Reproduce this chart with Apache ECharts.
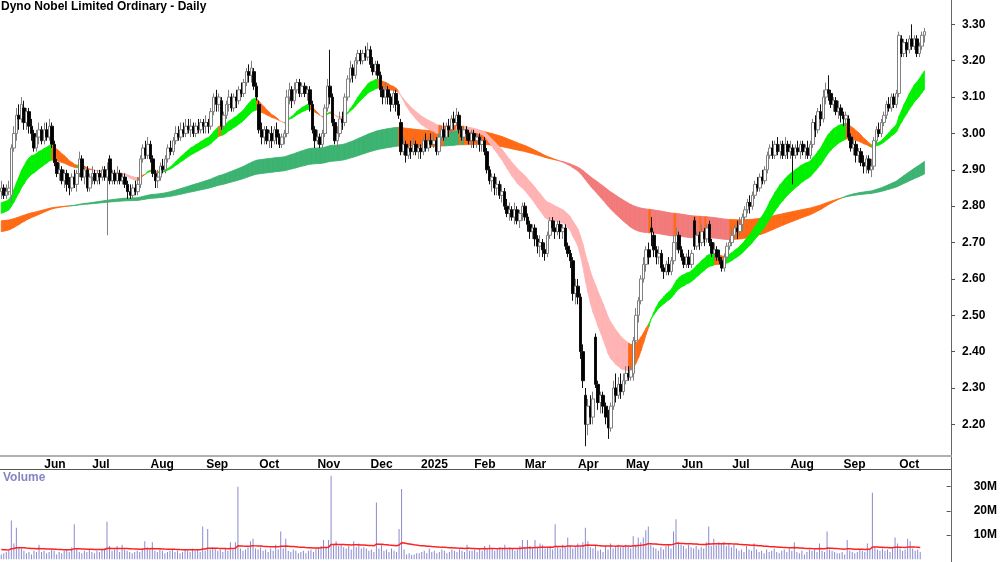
<!DOCTYPE html>
<html>
<head>
<meta charset="utf-8">
<title>Dyno Nobel Limited Ordinary - Daily</title>
<script src="https://cdn.jsdelivr.net/npm/echarts@6/dist/echarts.min.js"></script>
<style>
  html, body { margin: 0; padding: 0; background: #fff; }
  #chart { width: 1000px; height: 562px; }
</style>
</head>
<body>
<div id="chart"></div>
<script>
// daily bars [open, close, low, high], from 9 May 2024
var ohlc = [
  // May 2024
  [2.84,2.85,2.82,2.87],[2.85,2.83,2.82,2.86],[2.83,2.84,2.82,2.86],[2.84,2.85,2.83,2.87],[2.83,2.96,2.81,2.97],
  [2.96,3.00,2.95,3.02],[3.00,3.05,2.98,3.07],[3.05,3.04,3.01,3.08],[3.04,3.08,3.03,3.10],[3.07,3.03,3.01,3.09],
  [3.03,3.06,3.01,3.07],[3.06,3.02,3.00,3.07],[3.02,3.00,2.98,3.04],[3.00,2.96,2.95,3.01],[2.96,2.99,2.95,3.01],
  [2.99,3.01,2.97,3.03],[3.01,2.98,2.97,3.02],
  // Jun
  [2.98,3.01,2.97,3.03],[3.01,2.99,2.98,3.03],[2.99,3.02,2.98,3.04],[3.02,2.97,2.96,3.03],[2.97,2.92,2.91,2.98],
  [2.92,2.89,2.88,2.93],[2.89,2.90,2.87,2.92],[2.90,2.87,2.86,2.91],[2.87,2.89,2.85,2.90],[2.89,2.86,2.84,2.90],
  [2.86,2.85,2.83,2.88],[2.85,2.88,2.84,2.89],[2.88,2.86,2.85,2.90],[2.86,2.89,2.84,2.90],[2.89,2.93,2.88,2.95],
  [2.93,2.88,2.87,2.94],[2.88,2.90,2.86,2.91],[2.90,2.85,2.84,2.91],[2.85,2.88,2.84,2.89],
  // Jul
  [2.88,2.89,2.86,2.91],[2.89,2.87,2.86,2.90],[2.87,2.89,2.86,2.90],[2.89,2.88,2.86,2.90],[2.88,2.90,2.87,2.91],
  [2.90,2.88,2.87,2.91],[2.88,2.90,2.72,2.92],[2.93,2.87,2.86,2.94],[2.87,2.89,2.86,2.90],[2.89,2.87,2.86,2.90],
  [2.87,2.89,2.86,2.91],[2.89,2.87,2.86,2.90],[2.87,2.88,2.86,2.89],[2.88,2.86,2.85,2.89],[2.86,2.84,2.82,2.87],
  [2.84,2.83,2.82,2.86],[2.83,2.85,2.82,2.86],[2.85,2.84,2.83,2.87],[2.84,2.86,2.83,2.88],[2.86,2.93,2.85,2.94],
  [2.93,2.96,2.92,2.97],[2.96,2.94,2.93,2.98],[2.94,2.97,2.93,2.99],
  // Aug
  [2.97,2.93,2.92,2.98],[2.93,2.89,2.88,2.94],[2.89,2.87,2.85,2.90],[2.87,2.88,2.85,2.90],[2.88,2.91,2.87,2.92],
  [2.91,2.90,2.89,2.93],[2.90,2.93,2.89,2.94],[2.93,2.96,2.92,2.97],[2.96,2.95,2.94,2.98],[2.95,2.98,2.94,2.99],
  [2.98,3.00,2.97,3.02],[3.00,2.99,2.98,3.02],[2.99,3.01,2.98,3.03],[3.01,3.00,2.99,3.03],[3.00,3.02,2.99,3.04],
  [3.02,3.01,3.00,3.04],[3.01,3.02,2.99,3.04],[3.02,3.00,2.99,3.03],[3.00,3.02,2.99,3.03],[3.02,3.01,3.00,3.04],
  [3.01,3.03,3.00,3.04],[3.03,3.02,3.00,3.04],
  // Sep
  [3.02,3.03,3.00,3.05],[3.03,3.02,3.00,3.04],[3.02,3.06,3.01,3.07],[3.06,3.10,3.05,3.11],[3.10,3.08,3.06,3.12],
  [3.08,3.10,3.06,3.11],[3.09,3.02,3.01,3.10],[3.02,3.05,3.01,3.06],[3.05,3.08,3.04,3.09],[3.08,3.10,3.06,3.12],
  [3.10,3.07,3.06,3.11],[3.07,3.10,3.06,3.11],[3.10,3.09,3.07,3.12],[3.09,3.12,3.08,3.13],[3.12,3.11,3.10,3.14],
  [3.11,3.14,3.10,3.15],[3.14,3.17,3.13,3.18],[3.17,3.16,3.14,3.19],[3.16,3.18,3.14,3.20],[3.17,3.13,3.12,3.18],
  [3.13,3.10,3.09,3.14],
  // Oct
  [3.08,3.01,3.00,3.09],[3.01,2.99,2.97,3.03],[2.99,3.01,2.97,3.02],[3.01,2.98,2.97,3.02],[2.98,3.00,2.96,3.01],
  [3.00,2.98,2.96,3.02],[2.98,3.01,2.97,3.02],[3.01,2.99,2.97,3.03],[2.99,2.97,2.96,3.00],[2.97,2.99,2.96,3.00],
  [2.99,3.00,2.97,3.01],[3.00,3.10,2.99,3.12],[3.10,3.12,3.08,3.14],[3.12,3.09,3.07,3.13],[3.09,3.12,3.08,3.14],
  [3.12,3.14,3.11,3.15],[3.14,3.11,3.10,3.15],[3.11,3.13,3.10,3.14],[3.13,3.11,3.10,3.14],[3.11,3.12,3.09,3.13],
  [3.12,3.08,3.06,3.13],[3.08,3.01,3.00,3.09],[3.01,2.98,2.96,3.02],
  // Nov
  [2.98,2.99,2.97,3.01],[2.99,2.97,2.96,3.00],[2.97,3.00,2.96,3.01],[3.00,3.07,2.99,3.08],[3.07,3.13,3.06,3.15],
  [3.13,3.10,3.08,3.23],[3.10,3.03,3.02,3.11],[3.03,2.98,2.97,3.04],[2.98,3.00,2.96,3.02],[3.00,3.04,2.99,3.06],
  [3.04,3.03,3.01,3.06],[3.03,3.10,3.02,3.11],[3.10,3.15,3.09,3.16],[3.15,3.18,3.14,3.20],[3.18,3.16,3.14,3.19],
  [3.16,3.20,3.15,3.21],[3.20,3.22,3.19,3.23],[3.22,3.20,3.19,3.23],[3.20,3.22,3.19,3.23],[3.22,3.21,3.20,3.24],
  [3.21,3.23,3.20,3.25],
  // Dec
  [3.23,3.19,3.18,3.24],[3.19,3.17,3.16,3.21],[3.17,3.19,3.16,3.20],[3.19,3.16,3.15,3.20],[3.16,3.12,3.10,3.17],
  [3.12,3.10,3.08,3.13],[3.10,3.12,3.08,3.14],[3.12,3.10,3.08,3.13],[3.10,3.08,3.06,3.11],[3.08,3.11,3.07,3.12],
  [3.11,3.08,3.06,3.12],[3.08,3.05,3.04,3.09],[3.03,2.95,2.94,3.04],[2.95,2.97,2.94,2.99],[2.97,2.94,2.92,2.98],
  [2.94,2.96,2.93,2.97],[2.96,2.95,2.93,2.98],[2.95,2.97,2.94,2.99],[2.97,2.95,2.94,2.98],[2.95,2.96,2.93,2.97],
  // Jan 2025
  [2.96,2.95,2.93,2.97],[2.95,2.98,2.94,2.99],[2.98,2.96,2.95,3.00],[2.96,2.98,2.95,2.99],[2.98,2.97,2.96,3.00],
  [2.97,2.98,2.96,3.00],[2.98,2.95,2.94,2.99],[2.95,2.99,2.94,3.00],[2.99,3.01,2.98,3.02],[3.01,2.99,2.98,3.03],
  [2.99,3.02,2.98,3.03],[3.02,3.01,2.99,3.04],[3.01,3.04,3.00,3.05],[3.04,3.03,3.01,3.06],[3.03,3.05,3.02,3.07],
  [3.05,3.01,3.00,3.06],[3.01,2.99,2.98,3.02],[2.99,3.01,2.98,3.02],[3.01,3.00,2.98,3.02],[3.00,2.98,2.97,3.01],
  [2.98,3.00,2.96,3.01],
  // Feb
  [3.00,2.98,2.96,3.01],[2.98,2.99,2.96,3.00],[2.99,2.97,2.95,3.00],[2.97,2.98,2.95,2.99],[2.98,2.95,2.94,2.99],
  [2.95,2.90,2.89,2.96],[2.90,2.87,2.86,2.91],[2.87,2.88,2.84,2.89],[2.88,2.85,2.83,2.89],[2.85,2.86,2.83,2.88],
  [2.86,2.83,2.82,2.87],[2.83,2.84,2.81,2.86],[2.84,2.80,2.79,2.85],[2.80,2.78,2.77,2.82],[2.78,2.79,2.76,2.81],
  [2.79,2.77,2.76,2.80],[2.77,2.79,2.75,2.81],[2.79,2.76,2.75,2.80],[2.76,2.78,2.74,2.79],[2.78,2.80,2.76,2.81],
  // Mar
  [2.80,2.77,2.76,2.81],[2.77,2.75,2.73,2.78],[2.75,2.73,2.71,2.76],[2.73,2.74,2.71,2.75],[2.74,2.71,2.69,2.75],
  [2.71,2.69,2.67,2.72],[2.69,2.70,2.66,2.72],[2.70,2.68,2.66,2.71],[2.68,2.67,2.65,2.70],[2.67,2.72,2.66,2.73],
  [2.72,2.76,2.71,2.77],[2.76,2.74,2.73,2.77],[2.74,2.73,2.71,2.76],[2.73,2.75,2.72,2.76],[2.75,2.73,2.71,2.76],
  [2.73,2.74,2.71,2.75],[2.74,2.69,2.68,2.75],[2.69,2.67,2.66,2.70],[2.67,2.65,2.63,2.68],[2.65,2.56,2.54,2.66],
  [2.56,2.58,2.53,2.60],
  // Apr
  [2.58,2.55,2.53,2.60],[2.55,2.40,2.38,2.56],[2.40,2.32,2.30,2.42],[2.28,2.20,2.14,2.30],[2.20,2.25,2.17,2.27],
  [2.25,2.22,2.20,2.28],[2.22,2.27,2.20,2.29],[2.44,2.31,2.30,2.45],[2.31,2.26,2.24,2.32],[2.26,2.28,2.23,2.29],
  [2.28,2.25,2.23,2.29],[2.25,2.22,2.20,2.26],[2.22,2.19,2.16,2.24],[2.19,2.25,2.18,2.26],[2.25,2.30,2.24,2.32],
  [2.30,2.28,2.26,2.34],[2.28,2.31,2.27,2.33],[2.31,2.29,2.27,2.34],[2.29,2.32,2.28,2.34],
  // May
  [2.32,2.34,2.31,2.36],[2.34,2.33,2.32,2.36],[2.33,2.35,2.32,2.36],[2.34,2.43,2.32,2.44],[2.43,2.50,2.42,2.52],
  [2.50,2.54,2.48,2.55],[2.54,2.60,2.53,2.61],[2.60,2.64,2.59,2.66],[2.64,2.68,2.62,2.69],[2.68,2.66,2.64,2.70],
  [2.74,2.73,2.69,2.77],[2.72,2.68,2.66,2.73],[2.68,2.66,2.64,2.69],[2.66,2.67,2.64,2.69],[2.67,2.63,2.62,2.68],
  [2.63,2.62,2.60,2.64],[2.62,2.64,2.61,2.65],[2.64,2.62,2.61,2.66],[2.62,2.65,2.61,2.66],[2.65,2.70,2.64,2.72],
  [2.70,2.72,2.68,2.74],[2.72,2.68,2.67,2.73],
  // Jun
  [2.68,2.66,2.65,2.69],[2.66,2.64,2.63,2.67],[2.64,2.66,2.63,2.67],[2.66,2.64,2.63,2.68],[2.64,2.67,2.63,2.68],
  [2.76,2.69,2.68,2.77],[2.69,2.72,2.68,2.73],[2.72,2.70,2.68,2.73],[2.70,2.73,2.69,2.75],[2.73,2.71,2.69,2.74],
  [2.71,2.74,2.70,2.75],[2.75,2.70,2.69,2.76],[2.70,2.67,2.66,2.71],[2.67,2.68,2.65,2.70],[2.68,2.66,2.65,2.69],
  [2.66,2.65,2.64,2.68],[2.65,2.63,2.62,2.66],[2.63,2.66,2.62,2.67],[2.66,2.69,2.65,2.70],[2.69,2.70,2.68,2.71],
  // Jul
  [2.70,2.72,2.69,2.74],[2.72,2.74,2.71,2.75],[2.74,2.73,2.71,2.76],[2.73,2.75,2.72,2.77],[2.75,2.77,2.73,2.78],
  [2.77,2.79,2.76,2.80],[2.79,2.81,2.78,2.82],[2.81,2.80,2.78,2.83],[2.80,2.83,2.79,2.84],[2.83,2.86,2.82,2.87],
  [2.86,2.85,2.84,2.88],[2.85,2.88,2.84,2.89],[2.88,2.87,2.86,2.90],[2.87,2.90,2.86,2.91],[2.90,2.94,2.89,2.95],
  [2.94,2.96,2.93,2.97],[2.96,2.94,2.93,2.98],[2.94,2.97,2.93,2.98],[2.97,2.95,2.94,2.99],[2.95,2.97,2.93,2.98],
  [2.97,2.94,2.93,2.98],[2.94,2.97,2.93,2.99],[2.97,2.95,2.93,2.98],
  // Aug
  [2.95,2.96,2.93,2.98],[2.96,2.94,2.86,2.97],[2.94,2.96,2.93,2.97],[2.96,2.95,2.94,2.98],[2.95,2.97,2.93,2.98],
  [2.97,2.95,2.94,2.98],[2.95,2.96,2.93,2.97],[2.96,2.94,2.93,2.98],[2.94,2.97,2.93,2.98],[2.97,3.03,2.96,3.04],
  [3.03,3.01,2.99,3.05],[3.01,3.06,3.00,3.07],[3.06,3.04,3.02,3.08],[3.04,3.10,3.03,3.12],[3.10,3.12,3.08,3.14],
  [3.12,3.11,3.09,3.16],[3.11,3.08,3.07,3.12],[3.08,3.09,3.06,3.10],[3.09,3.06,3.05,3.10],[3.06,3.07,3.04,3.09],
  [3.07,3.05,3.03,3.08],
  // Sep
  [3.05,3.04,3.02,3.06],[3.04,3.05,3.02,3.06],[3.04,2.99,2.98,3.05],[2.99,2.96,2.95,3.00],[2.96,2.97,2.94,2.99],
  [2.97,2.94,2.92,2.98],[2.94,2.95,2.92,2.96],[2.95,2.92,2.91,2.96],[2.92,2.91,2.89,2.94],[2.91,2.93,2.89,2.94],
  [2.93,2.90,2.89,2.94],[2.90,2.91,2.88,2.93],[2.91,2.98,2.90,2.99],[2.98,3.01,2.97,3.02],[3.01,3.00,2.99,3.03],
  [3.00,3.03,2.99,3.04],[3.03,3.05,3.02,3.06],[3.05,3.08,3.04,3.09],[3.08,3.07,3.06,3.10],[3.07,3.10,3.06,3.11],
  [3.10,3.08,3.07,3.11],[3.08,3.11,3.07,3.12],
  // Oct
  [3.11,3.27,3.10,3.28],[3.26,3.22,3.21,3.27],[3.22,3.25,3.21,3.26],[3.25,3.23,3.21,3.26],[3.23,3.26,3.22,3.27],
  [3.26,3.24,3.23,3.30],[3.24,3.26,3.23,3.27],[3.26,3.22,3.21,3.27],[3.22,3.24,3.21,3.25],[3.24,3.27,3.23,3.28],
  [3.27,3.28,3.25,3.29]
];

// daily volume, millions of shares
var volume = [
  2.0,2.5,3.0,3.5,16.0,6.5,13.0,5.0,4.5,3.5,2.5,3.0,2.0,3.5,3.0,6.0,3.0,
  3.5,2.5,3.0,4.0,3.5,2.0,3.0,2.5,3.5,4.0,3.0,5.0,14.5,4.5,3.0,2.5,3.5,3.0,4.0,
  3.0,2.5,3.5,3.0,4.0,4.5,15.5,5.5,3.5,4.0,5.5,3.0,6.0,4.0,3.5,3.0,2.5,3.0,3.5,3.0,4.5,7.5,5.0,
  4.0,7.0,3.5,3.0,4.0,3.5,2.5,3.0,3.5,4.0,3.0,3.5,2.5,3.0,4.0,3.5,3.0,4.5,3.5,4.0,3.0,13.5,
  3.5,12.5,4.0,5.0,4.5,3.5,4.0,3.0,4.5,3.5,7.0,4.0,7.0,30.0,4.5,3.5,4.0,5.0,7.5,8.5,4.5,
  4.0,5.0,3.5,4.0,3.0,4.5,3.5,6.0,4.0,11.5,4.5,8.5,3.5,3.0,4.0,3.5,2.5,3.0,3.5,2.5,3.5,4.0,3.0,
  4.5,5.0,5.5,8.0,5.0,8.0,34.5,6.0,7.5,5.5,6.0,5.0,4.5,5.5,4.0,7.5,5.0,6.5,4.5,5.0,4.5,
  3.5,4.0,3.0,23.5,4.5,6.0,3.5,4.0,3.0,4.5,3.5,3.0,12.5,29.0,4.0,2.0,2.5,1.8,2.0,2.5,
  2.5,3.0,3.5,2.5,4.5,3.0,3.5,2.5,3.0,4.0,3.5,2.5,3.0,4.0,3.5,3.0,4.0,3.5,3.0,6.0,3.5,
  3.5,4.0,3.0,4.5,3.5,5.5,4.0,6.0,4.5,3.5,4.0,5.0,4.5,6.0,4.0,5.0,4.5,3.5,4.0,5.5,
  8.0,5.0,8.0,5.5,4.5,8.0,5.0,6.5,6.0,4.5,5.0,5.5,4.0,14.5,5.0,4.5,6.0,5.5,9.0,5.5,4.5,
  5.0,6.5,5.0,7.0,13.0,7.5,5.0,4.5,5.5,3.5,4.0,3.0,5.5,4.0,6.5,4.5,5.0,6.0,5.0,
  5.0,6.0,5.5,4.5,9.5,6.0,9.0,7.0,9.0,12.0,13.5,6.0,5.0,4.5,3.5,5.0,4.0,5.5,6.0,4.5,11.5,16.5,
  7.0,6.0,5.5,4.5,6.0,5.0,4.5,5.5,4.0,5.0,4.5,7.0,13.5,5.5,8.5,6.0,7.0,6.5,7.0,5.5,
  6.5,5.0,6.0,4.5,3.5,4.0,3.0,5.5,4.0,3.5,6.5,4.0,3.0,3.5,2.5,4.0,3.0,3.5,4.5,3.0,2.5,3.5,4.0,
  3.0,4.5,3.5,7.0,3.0,2.5,3.5,2.0,3.0,4.0,3.5,4.0,3.0,6.5,3.5,3.0,11.5,4.0,3.5,3.0,2.5,
  2.5,3.0,2.0,8.0,3.5,3.0,2.5,3.0,4.0,3.5,3.0,6.5,4.0,27.5,5.0,4.0,3.5,4.5,3.5,4.0,3.0,4.5,
  9.0,6.5,4.5,3.5,4.0,8.5,7.5,4.5,3.5,4.0,3.0
];

var startDate = '2024-05-09';
var holidays = ['2024-06-10', '2024-12-25', '2024-12-26', '2025-01-01', '2025-01-27',
                '2025-04-18', '2025-04-21', '2025-04-25', '2025-06-09'];
var padBars = 10;   // empty days to the right of the last bar
var monthNames = ['Jan', 'Feb', 'Mar', 'Apr', 'May', 'Jun', 'Jul', 'Aug', 'Sep', 'Oct', 'Nov', 'Dec'];

// price axis: visible range, labels every 0.10
var priceMin = 2.113, priceMax = 3.367, priceSplits = 12;
// volume axis (millions)
var volMax = 37.3, volStep = 10;

var shortPeriods = [21, 34], shortSeed = [2.81, 2.78];
var longPeriods = [144, 233], longSeed = [2.73, 2.76];
var volPeriod = 50, volSeed = 4.0;

function tradingDays(start, count) {
    var d = new Date(start + 'T00:00:00Z'), out = [];
    while (out.length < count) {
        var s = d.toISOString().slice(0, 10), wd = d.getUTCDay();
        if (wd !== 0 && wd !== 6 && holidays.indexOf(s) < 0) out.push(s);
        d.setUTCDate(d.getUTCDate() + 1);
    }
    return out;
}

function ema(src, period, seed) {
    var k = 2 / (period + 1), v = seed, out = [];
    for (var i = 0; i < src.length; i++) {
        if (i > 0) v = v + k * (src[i] - v);
        out.push(v);
    }
    return out;
}

// 颜色: fast above & rising -> up, fast below & falling -> down, otherwise mixed
function bandColors(fast, slow, up, mix, down) {
    var out = [up];
    for (var i = 1; i < fast.length; i++) {
        var rising = fast[i] >= fast[i - 1];
        var above = fast[i] >= slow[i];
        out.push(rising && above ? up : (!rising && !above ? down : mix));
    }
    return out;
}

function bandItem(a, b, cols) {
    return function (params, api) {
        var i = api.value(0);
        var pts = [
            api.coord([i - 1, a[i - 1]]),
            api.coord([i, a[i]]),
            api.coord([i, b[i]]),
            api.coord([i - 1, b[i - 1]])
        ];
        return {
            type: 'polygon',
            shape: { points: pts },
            style: { fill: cols[i], stroke: cols[i], lineWidth: 0.8 }
        };
    };
}

function chartRender() {
    var n = ohlc.length;
    var dates = tradingDays(startDate, n + padBars);
    var closes = ohlc.map(function (d) { return d[1]; });

    var sFast = ema(closes, shortPeriods[0], shortSeed[0]);
    var sSlow = ema(closes, shortPeriods[1], shortSeed[1]);
    var lFast = ema(closes, longPeriods[0], longSeed[0]);
    var lSlow = ema(closes, longPeriods[1], longSeed[1]);
    var volAvg = ema(volume, volPeriod, volSeed);

    var sCols = bandColors(sFast, sSlow, '#00f000', '#ff6a14', '#ffb3b3');
    var lCols = bandColors(lFast, lSlow, '#3cb371', '#ff6a14', '#f27a7a');

    var bandData = [];
    for (var i = 1; i < n; i++) bandData.push([i, closes[i]]);

    var monthStart = dates.map(function (d, i) {
        return i > 0 && d.slice(5, 7) !== dates[i - 1].slice(5, 7);
    });

    var font = 'Liberation Sans, Arial, sans-serif';
    var chart = echarts.init(document.getElementById('chart'));

    var option = {
        animation: false,
        backgroundColor: '#fff',
        title: {
            text: 'Dyno Nobel Limited Ordinary - Daily',
            left: 1, top: 1, padding: 0,
            textStyle: { fontSize: 12, fontWeight: 'bold', color: '#000', fontFamily: font }
        },
        graphic: [
            { type: 'text', left: 3, top: 472, silent: true,
              style: { text: 'Volume', fontSize: 12, fontWeight: 'bold', fill: '#8585c4', fontFamily: font } },
            { type: 'line', silent: true, shape: { x1: 0, y1: 469.5, x2: 951, y2: 469.5 },
              style: { stroke: '#555', lineWidth: 1 } },
            { type: 'line', silent: true, shape: { x1: 951.5, y1: 0, x2: 951.5, y2: 562 },
              style: { stroke: '#666', lineWidth: 1 } }
        ],
        grid: [
            { left: 0, right: 49, top: 0, bottom: 106 },
            { left: 0, right: 49, top: 469, bottom: 2.7 }
        ],
        xAxis: [{
            type: 'category', gridIndex: 0, data: dates, boundaryGap: true,
            axisLine: { lineStyle: { color: '#b0b0b0', width: 2 } },
            axisTick: {
                length: 4,
                interval: function (idx) { return monthStart[idx]; },
                lineStyle: { color: '#888' }
            },
            axisLabel: {
                margin: 3, align: 'left',
                interval: function (idx) { return monthStart[idx]; },
                formatter: function (v) {
                    var m = +v.slice(5, 7);
                    return m === 1 ? v.slice(0, 4) : monthNames[m - 1];
                },
                fontSize: 12, fontWeight: 'bold', color: '#000', fontFamily: font
            },
            splitLine: { show: false }
        }, {
            type: 'category', gridIndex: 1, data: dates, boundaryGap: true, show: false
        }],
        yAxis: [{
            type: 'value', gridIndex: 0, position: 'right',
            min: priceMin, max: priceMax, splitNumber: priceSplits,
            axisLine: { show: false },
            axisTick: { show: true, length: 4, lineStyle: { color: '#555' } },
            axisLabel: {
                margin: 11, showMinLabel: false, showMaxLabel: false,
                formatter: function (v) { return v.toFixed(2); },
                fontSize: 12, fontWeight: 'bold', color: '#000', fontFamily: font
            },
            splitLine: { show: false }
        }, {
            type: 'value', gridIndex: 1, position: 'right',
            min: 0, max: volMax, interval: volStep,
            axisLine: { show: false },
            axisTick: { show: true, length: 4, lineStyle: { color: '#555' } },
            axisLabel: {
                margin: 27, showMinLabel: false, showMaxLabel: false,
                formatter: function (v) { return v + 'M'; },
                fontSize: 12, fontWeight: 'bold', color: '#000', fontFamily: font
            },
            splitLine: { show: false }
        }],
        series: [{
            // 长期带
            type: 'custom', xAxisIndex: 0, yAxisIndex: 0, z: 1, silent: true,
            renderItem: bandItem(lFast, lSlow, lCols),
            encode: { x: 0, y: 1 },
            data: bandData
        }, {
            // 短期带
            type: 'custom', xAxisIndex: 0, yAxisIndex: 0, z: 2, silent: true,
            renderItem: bandItem(sFast, sSlow, sCols),
            encode: { x: 0, y: 1 },
            data: bandData
        }, {
            type: 'candlestick', xAxisIndex: 0, yAxisIndex: 0, z: 3, silent: true,
            barWidth: 3,
            itemStyle: {
                color: '#ffffff', color0: '#000000',
                borderColor: '#808080', borderColor0: '#111111', borderWidth: 1
            },
            data: ohlc
        }, {
            type: 'bar', xAxisIndex: 1, yAxisIndex: 1, silent: true,
            barWidth: 1,
            itemStyle: { color: '#8a8ad0' },
            data: volume
        }, {
            type: 'line', xAxisIndex: 1, yAxisIndex: 1, silent: true,
            showSymbol: false, symbol: 'none',
            lineStyle: { color: '#ff2020', width: 1.5 },
            data: volAvg
        }]
    };

    chart.setOption(option);
}

chartRender();
</script>
</body>
</html>
